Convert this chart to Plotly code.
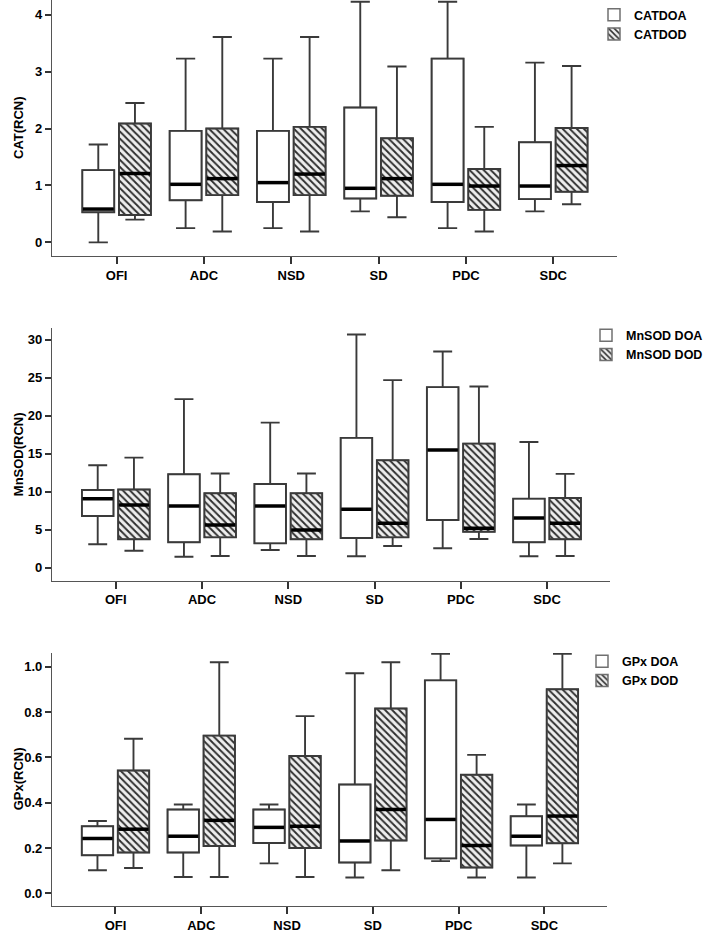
import plotly.graph_objects as go

categories = ['OFI', 'ADC', 'NSD', 'SD', 'PDC', 'SDC']

# CAT(RCN)
cat_doa_low = [0.00, 0.25, 0.25, 0.545, 0.25, 0.545]
cat_doa_q1 = [0.53, 0.74, 0.71, 0.77, 0.71, 0.76]
cat_doa_med = [0.585, 1.02, 1.05, 0.95, 1.02, 0.99]
cat_doa_q3 = [1.27, 1.96, 1.96, 2.37, 3.23, 1.76]
cat_doa_up = [1.72, 3.23, 3.23, 4.23, 4.23, 3.16]
cat_dod_low = [0.40, 0.19, 0.19, 0.44, 0.19, 0.67]
cat_dod_q1 = [0.48, 0.83, 0.83, 0.82, 0.57, 0.89]
cat_dod_med = [1.21, 1.12, 1.20, 1.12, 0.99, 1.35]
cat_dod_q3 = [2.09, 2.00, 2.03, 1.83, 1.29, 2.01]
cat_dod_up = [2.45, 3.61, 3.61, 3.09, 2.03, 3.10]

# MnSOD(RCN)
sod_doa_low = [3.08, 1.45, 2.33, 1.50, 2.56, 1.50]
sod_doa_q1 = [6.81, 3.35, 3.21, 3.91, 6.28, 3.35]
sod_doa_med = [9.09, 8.13, 8.13, 7.69, 15.5, 6.55]
sod_doa_q3 = [10.24, 12.3, 11.03, 17.1, 23.77, 9.09]
sod_doa_up = [13.5, 22.2, 19.1, 30.7, 28.46, 16.56]
sod_dod_low = [2.24, 1.54, 1.54, 2.86, 3.78, 1.54]
sod_dod_q1 = [3.74, 4.00, 3.74, 4.00, 4.74, 3.74]
sod_dod_med = [8.26, 5.63, 4.97, 5.85, 5.19, 5.85]
sod_dod_q3 = [10.3, 9.8, 9.8, 14.15, 16.34, 9.18]
sod_dod_up = [14.5, 12.4, 12.4, 24.7, 23.85, 12.35]

# GPx(RCN)
gpx_doa_low = [0.102, 0.072, 0.132, 0.070, 0.142, 0.070]
gpx_doa_q1 = [0.168, 0.180, 0.222, 0.136, 0.154, 0.211]
gpx_doa_med = [0.242, 0.252, 0.291, 0.231, 0.326, 0.252]
gpx_doa_q3 = [0.296, 0.370, 0.370, 0.480, 0.940, 0.340]
gpx_doa_up = [0.319, 0.392, 0.392, 0.971, 1.057, 0.392]
gpx_dod_low = [0.112, 0.072, 0.072, 0.102, 0.070, 0.132]
gpx_dod_q1 = [0.180, 0.209, 0.200, 0.233, 0.114, 0.221]
gpx_dod_med = [0.283, 0.322, 0.296, 0.370, 0.211, 0.341]
gpx_dod_q3 = [0.542, 0.696, 0.606, 0.816, 0.523, 0.901]
gpx_dod_up = [0.682, 1.020, 0.782, 1.020, 0.611, 1.057]

W, H = 708, 932
FONT = 'Liberation Sans'
OFFSET = 0.21
BOXW = 0.366

panels = [
    dict(name='CAT(RCN)', leg=('CATDOA', 'CATDOD'),
         doa=(cat_doa_low, cat_doa_q1, cat_doa_med, cat_doa_q3, cat_doa_up),
         dod=(cat_dod_low, cat_dod_q1, cat_dod_med, cat_dod_q3, cat_dod_up),
         px=(52, 617), py=(0, 256), yr=(-0.24, 4.26), dtick=1, fmt='d',
         legx=594, legy=0),
    dict(name='MnSOD(RCN)', leg=('MnSOD DOA', 'MnSOD DOD'),
         doa=(sod_doa_low, sod_doa_q1, sod_doa_med, sod_doa_q3, sod_doa_up),
         dod=(sod_dod_low, sod_dod_q1, sod_dod_med, sod_dod_q3, sod_dod_up),
         px=(52, 610), py=(327.7, 580.7), yr=(-1.71, 31.6), dtick=5, fmt='d',
         legx=586, legy=320.5),
    dict(name='GPx(RCN)', leg=('GPx DOA', 'GPx DOD'),
         doa=(gpx_doa_low, gpx_doa_q1, gpx_doa_med, gpx_doa_q3, gpx_doa_up),
         dod=(gpx_dod_low, gpx_dod_q1, gpx_dod_med, gpx_dod_q3, gpx_dod_up),
         px=(52, 607), py=(652.7, 906), yr=(-0.056, 1.062), dtick=0.2, fmt='.1f',
         legx=582, legy=646.5),
]

fig = go.Figure()
layout = dict(width=W, height=H, margin=dict(l=0, r=0, t=0, b=0),
              paper_bgcolor='white', plot_bgcolor='white',
              barmode='overlay', boxmode='overlay', annotations=[])

for k, p in enumerate(panels):
    n = '' if k == 0 else str(k + 1)
    xa, ya = 'x' + n, 'y' + n
    legname = 'legend' + n
    for j, (key, sign) in enumerate((('doa', -1), ('dod', 1))):
        low, q1, med, q3, up = p[key]
        pos = [i + sign * OFFSET for i in range(len(categories))]
        if key == 'doa':
            marker = dict(color='white', line=dict(color='#707070', width=1.5))
        else:
            marker = dict(color='#2e2e2e',
                          line=dict(color='#707070', width=1.5),
                          pattern=dict(shape='\\', fgcolor='#2e2e2e',
                                       bgcolor='#eeeeee', size=5,
                                       solidity=0.38, fillmode='replace'))
        fig.add_trace(go.Bar(x=pos, y=[b - a for a, b in zip(q1, q3)], base=q1,
                             width=BOXW, marker=marker, name=p['leg'][j],
                             legend=legname, showlegend=True,
                             xaxis=xa, yaxis=ya, hoverinfo='skip'))
        fig.add_trace(go.Box(x=pos, lowerfence=low, q1=q1, median=med, q3=q3,
                             upperfence=up, width=BOXW, whiskerwidth=0.6,
                             fillcolor='rgba(0,0,0,0)',
                             line=dict(color='#3a3a3a', width=1.9),
                             boxpoints=False, showlegend=False,
                             xaxis=xa, yaxis=ya))
        mx, my = [], []
        for c, m in zip(pos, med):
            mx += [c - BOXW / 2 * 0.96, c + BOXW / 2 * 0.96, None]
            my += [m, m, None]
        fig.add_trace(go.Scatter(x=mx, y=my, mode='lines',
                                 line=dict(color='black', width=3.5),
                                 showlegend=False, hoverinfo='skip',
                                 xaxis=xa, yaxis=ya))

    xdom = [p['px'][0] / W, p['px'][1] / W]
    ydom = [1 - p['py'][1] / H, 1 - p['py'][0] / H]
    layout['xaxis' + n] = dict(
        domain=xdom, anchor=ya, range=[-0.74, 5.73],
        tickmode='array', tickvals=list(range(len(categories))),
        ticktext=categories, ticks='outside', ticklen=7, tickwidth=1.5,
        tickcolor='#333', showline=True, linecolor='#555', linewidth=1.2,
        showgrid=False, zeroline=False,
        tickfont=dict(family=FONT, size=13, weight='bold', color='black'))
    layout['yaxis' + n] = dict(
        domain=ydom, anchor=xa, range=list(p['yr']), dtick=p['dtick'],
        tick0=0, tickformat=p['fmt'], ticks='outside', ticklen=6,
        tickwidth=1.5, tickcolor='#333', showline=True, linecolor='#555',
        linewidth=1.2, showgrid=False, zeroline=False,
        tickfont=dict(family=FONT, size=13, weight='bold', color='black'))
    layout['annotations'].append(dict(
        text=p['name'], xref='paper', yref='paper', x=18 / W,
        y=(ydom[0] + ydom[1]) / 2, xanchor='center', yanchor='middle',
        textangle=-90, showarrow=False,
        font=dict(family=FONT, size=13, weight='bold', color='black')))
    layout[legname] = dict(
        x=p['legx'] / W, xanchor='left', y=1 - p['legy'] / H, yanchor='top',
        bgcolor='rgba(0,0,0,0)', borderwidth=0, tracegroupgap=0,
        font=dict(family=FONT, size=12.5, weight='bold', color='black'))

fig.update_layout(**layout)
fig.write_html('out.html', config={'displayModeBar': False},
               post_script="document.body.style.margin='0';"
                           "document.body.style.overflow='hidden';")
